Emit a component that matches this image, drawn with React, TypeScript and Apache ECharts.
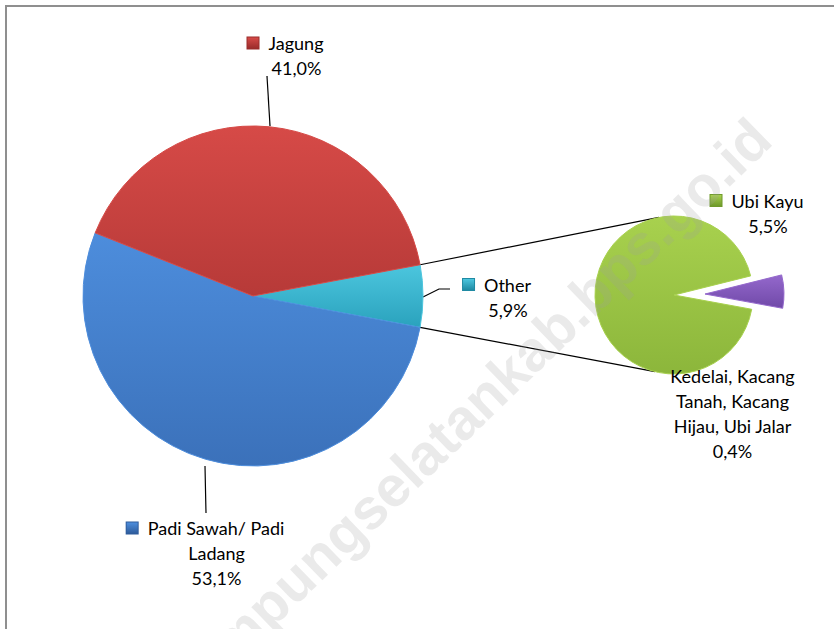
import React, { useEffect, useRef } from "react";
import * as echarts from "echarts";

// ---- data ----
const mainNames = ["Other", "Padi Sawah/ Padi Ladang", "Jagung"];
const mainLabelNames = ["Other", "Padi Sawah/ Padi\nLadang", "Jagung"];
const mainValues = [5.9, 53.1, 41.0];
const subNames = ["Kedelai, Kacang Tanah, Kacang Hijau, Ubi Jalar", "Ubi Kayu"];
const subLabelNames = ["Kedelai, Kacang\nTanah, Kacang\nHijau, Ubi Jalar", "Ubi Kayu"];
const subValues = [0.4, 5.5];
const watermarkText = "lampungselatankab.bps.go.id";

// ---- styles ----
const FONT = "Lato, 'Noto Sans', sans-serif";
const mainColors = [
  ["#4cc6de", "#2aa2bd", "#1f8aa3"],
  ["#4d8ddc", "#3b71ba", "#2e5c9c"],
  ["#d64a47", "#b73a38", "#9a2c2b"],
];
const subColors = [
  ["#9468cc", "#7049a8", "#5a388c"],
  ["#a8d14e", "#8cb63b", "#6f9a2b"],
];
const MAIN_CENTER = [253, 296];
const MAIN_R = 170;
const SUB_CENTER = [674, 295];
const SUB_R = 79;
const MAIN_START = 10.6;
const SUB_START = 14;
const EXPLODE = 31;

const fmt = (v: number) => v.toFixed(1).replace(".", ",") + "%";

function grad(c: string[]) {
  return new echarts.graphic.LinearGradient(0, 0, 0, 1, [
    { offset: 0, color: c[0] },
    { offset: 1, color: c[1] },
  ]);
}

export default function App() {
  const ref = useRef<HTMLDivElement>(null);
  useEffect(() => {
    if (!ref.current) return;
    const chart = echarts.init(ref.current, undefined, { renderer: "svg" });

    const rich: any = {
      g: { width: 10, height: 12 },
      s: { width: 22, height: 12 },
    };
    mainColors.forEach((c, i) => {
      rich["m" + i] = {
        width: 11,
        height: 11,
        backgroundColor: grad([c[0], c[2]]),
        borderColor: c[2],
        borderWidth: 1,
        verticalAlign: "middle",
      };
    });
    subColors.forEach((c, i) => {
      rich["u" + i] = {
        width: 11,
        height: 11,
        backgroundColor: grad([c[0], c[2]]),
        borderColor: c[2],
        borderWidth: 1,
        verticalAlign: "middle",
      };
    });

    const mainLabelPos = [
      { x: 508, y: 297, line: [[423, 297], [439, 289], [450, 289]] },
      { x: 216.5, y: 553, line: [[205, 466], [205.5, 490], [206, 513]] },
      { x: 296.5, y: 55.5, line: [[270, 126], [268.5, 101], [267, 76]] },
    ];
    const subLabelPos = [
      { x: 732.5, y: 413.5 },
      { x: 768, y: 213 },
    ];

    const rad = (d: number) => (d * Math.PI) / 180;
    const mainTotal = mainValues.reduce((a, b) => a + b, 0);
    const otherSpan = (mainValues[0] / mainTotal) * 360;
    const a1 = MAIN_START;
    const a2 = MAIN_START - otherSpan;
    const p1 = [MAIN_CENTER[0] + MAIN_R * Math.cos(rad(a1)), MAIN_CENTER[1] - MAIN_R * Math.sin(rad(a1))];
    const p2 = [MAIN_CENTER[0] + MAIN_R * Math.cos(rad(a2)), MAIN_CENTER[1] - MAIN_R * Math.sin(rad(a2))];
    const q1 = [SUB_CENTER[0] + SUB_R * Math.cos(rad(101)), SUB_CENTER[1] - SUB_R * Math.sin(rad(101))];
    const q2 = [SUB_CENTER[0] + SUB_R * Math.cos(rad(-104)), SUB_CENTER[1] - SUB_R * Math.sin(rad(-104))];

    // explosion of the small slice of the secondary pie, along its bisector
    const subTotal = subValues.reduce((a, b) => a + b, 0);
    const bis = SUB_START - ((subValues[0] / subTotal) * 360) / 2;
    const EXP_CENTER = [
      SUB_CENTER[0] + EXPLODE * Math.cos(rad(bis)),
      SUB_CENTER[1] - EXPLODE * Math.sin(rad(bis)),
    ];

    const subSeries = (visibleIdx: number, center: number[]) => ({
      type: "pie",
      z: 2,
      center,
      radius: SUB_R,
      startAngle: SUB_START,
      clockwise: true,
      avoidLabelOverlap: false,
      label: {
        show: true,
        position: "outside",
        color: "#000",
        fontFamily: FONT,
        fontSize: 18,
        lineHeight: 25,
        align: "center",
        rich,
        formatter: (p: any) =>
          p.dataIndex === 0
            ? subLabelNames[0] + "\n" + fmt(p.value)
            : `{u${p.dataIndex}|}{g|}` + subLabelNames[p.dataIndex] + "{s|}\n" + fmt(p.value),
      },
      labelLine: { show: false },
      labelLayout: (p: any) => {
        const l = subLabelPos[p.dataIndex];
        return { x: l.x, y: l.y, align: "center", verticalAlign: "middle" };
      },
      emphasis: { disabled: true },
      data: subValues.map((v, i) => ({
        name: subNames[i],
        value: v,
        label: { show: i === visibleIdx },
        itemStyle:
          i === visibleIdx
            ? { color: grad(subColors[i]), borderColor: subColors[i][0], borderWidth: 1 }
            : { color: "rgba(0,0,0,0)", borderWidth: 0 },
      })),
    });

    chart.setOption({
      animation: false,
      backgroundColor: "#ffffff",
      textStyle: { fontFamily: FONT },
      graphic: [
        {
          type: "rect",
          z: -10,
          shape: { x: 6, y: 6, width: 900, height: 700 },
          style: { fill: "none", stroke: "#8f8f8f", lineWidth: 2 },
        },
        {
          type: "line",
          z: 1,
          shape: { x1: p1[0], y1: p1[1], x2: q1[0], y2: q1[1] },
          style: { stroke: "#000", lineWidth: 1.2 },
        },
        {
          type: "line",
          z: 1,
          shape: { x1: p2[0], y1: p2[1], x2: q2[0], y2: q2[1] },
          style: { stroke: "#000", lineWidth: 1.2 },
        },
        {
          type: "text",
          z: 100,
          x: 473,
          y: 407,
          rotation: rad(44),
          silent: true,
          style: {
            text: watermarkText,
            font: "bold 57px 'Liberation Sans', sans-serif",
            fill: "rgba(160,160,160,0.22)",
            align: "center",
            verticalAlign: "middle",
          },
        },
      ],
      series: [
        {
          type: "pie",
          z: 2,
          center: MAIN_CENTER,
          radius: MAIN_R,
          startAngle: MAIN_START,
          clockwise: true,
          avoidLabelOverlap: false,
          label: {
            show: true,
            position: "outside",
            color: "#000",
            fontFamily: FONT,
            fontSize: 18,
            lineHeight: 25,
            align: "center",
            rich,
            formatter: (p: any) =>
              `{m${p.dataIndex}|}{g|}` +
              mainLabelNames[p.dataIndex].replace("\n", "{s|}\n") +
              (mainLabelNames[p.dataIndex].includes("\n") ? "" : "{s|}") +
              "\n" +
              fmt(p.value),
          },
          labelLine: { show: true, lineStyle: { color: "#000", width: 1.2 } },
          labelLayout: (p: any) => {
            const l = mainLabelPos[p.dataIndex];
            return {
              x: l.x,
              y: l.y,
              align: "center",
              verticalAlign: "middle",
              labelLinePoints: l.line,
            };
          },
          itemStyle: { borderWidth: 1 },
          emphasis: { disabled: true },
          data: mainValues.map((v, i) => ({
            name: mainNames[i],
            value: v,
            itemStyle: { color: grad(mainColors[i]), borderColor: mainColors[i][0] },
          })),
        },
        subSeries(1, SUB_CENTER),
        subSeries(0, EXP_CENTER),
      ],
    });
    return () => chart.dispose();
  }, []);
  return (
    <div
      ref={ref}
      style={{ position: "absolute", left: 0, top: 0, width: 834, height: 629 }}
    />
  );
}
